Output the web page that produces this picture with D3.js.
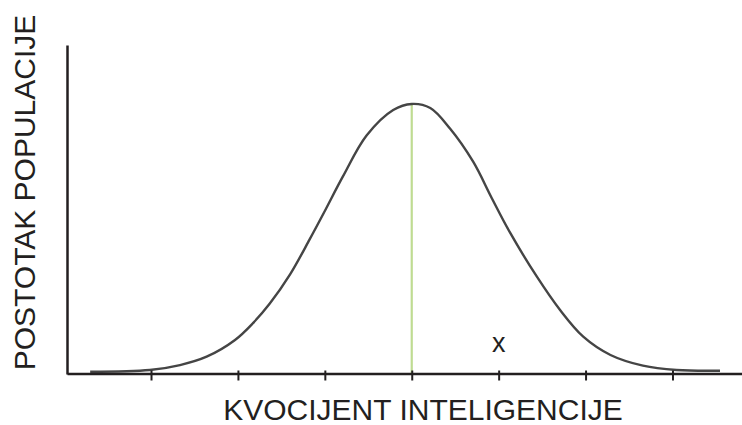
<!DOCTYPE html>
<html>
<head>
<meta charset="utf-8">
<script src="https://cdn.jsdelivr.net/npm/d3@7"></script>
<style>
  body { margin: 0; background: #fff; }
  svg { display: block; font-family: "Liberation Sans", Arial, sans-serif; }
</style>
</head>
<body>
<svg></svg>
<script>
// IQ values and share of population (%)
const iq = [44.5, 54.8, 60.0, 64.6, 69.5, 72.6, 75.5, 79.0, 82.4, 85.0, 88.1, 92.2, 96.8,
            100, 103.2, 106.6, 110.6, 113.8, 117.0, 121.6, 125.6, 129.6, 134.3, 139.9, 145.7, 153.2];
const percent = [0.023, 0.040, 0.089, 0.172, 0.338, 0.505, 0.700, 0.990, 1.340, 1.620, 1.961, 2.370, 2.624,
                 2.684, 2.644, 2.440, 2.110, 1.750, 1.402, 0.967, 0.636, 0.371, 0.189, 0.083, 0.040, 0.033];
const tickValues = [55, 70, 85, 100, 115, 130, 145];
const meanIQ = 100;
const meanPercent = 2.684;
const xTitle = "KVOCIJENT INTELIGENCIJE";
const yTitle = "POSTOTAK POPULACIJE";
const markLabel = "x";
const markIQ = 115;

const width = 742;
const height = 425;

const data = iq.map((d, i) => ({ iq: d, p: percent[i] }));

const xScale = d3.scaleLinear()
    .domain([40.5, 157])
    .range([67, 742]);

const yScale = d3.scaleLinear()
    .domain([0, 3.27])
    .range([374, 45]);

const svg = d3.select("svg")
    .attr("width", width)
    .attr("height", height);

// mean line
svg.append("line")
    .attr("x1", xScale(meanIQ))
    .attr("x2", xScale(meanIQ))
    .attr("y1", yScale(0))
    .attr("y2", yScale(meanPercent))
    .attr("stroke", "#bfdc92")
    .attr("stroke-width", 2.2);

// curve
const line = d3.line()
    .x(d => xScale(d.iq))
    .y(d => yScale(d.p))
    .curve(d3.curveCatmullRom.alpha(0.5));

svg.append("path")
    .datum(data)
    .attr("d", line)
    .attr("fill", "none")
    .attr("stroke", "#454545")
    .attr("stroke-width", 2.4);

// axes
const xAxis = d3.axisBottom(xScale)
    .tickValues(tickValues)
    .tickFormat("")
    .tickSizeInner(7)
    .tickSizeOuter(0);

const gx = svg.append("g")
    .attr("transform", `translate(0,${yScale(0) - 0.5})`)
    .call(xAxis);
gx.select(".domain").attr("stroke", "#231f20").attr("stroke-width", 2.5);
gx.selectAll(".tick line")
    .attr("y1", -3)
    .attr("stroke", "#231f20")
    .attr("stroke-width", 2);

const yAxis = d3.axisLeft(yScale)
    .tickValues([])
    .tickSizeOuter(0);

const gy = svg.append("g")
    .attr("transform", `translate(${xScale.range()[0]},0)`)
    .call(yAxis);
gy.select(".domain").attr("stroke", "#231f20").attr("stroke-width", 2.5);

// labels
svg.append("text")
    .attr("x", 423)
    .attr("y", 420)
    .attr("text-anchor", "middle")
    .attr("font-size", 30)
    .attr("fill", "#231f20")
    .text(xTitle);

svg.append("text")
    .attr("transform", "translate(35,192.5) rotate(-90)")
    .attr("text-anchor", "middle")
    .attr("font-size", 30)
    .attr("fill", "#231f20")
    .text(yTitle);

svg.append("text")
    .attr("x", xScale(markIQ))
    .attr("y", 352)
    .attr("text-anchor", "middle")
    .attr("font-size", 27)
    .attr("fill", "#231f20")
    .text(markLabel);
</script>
</body>
</html>
